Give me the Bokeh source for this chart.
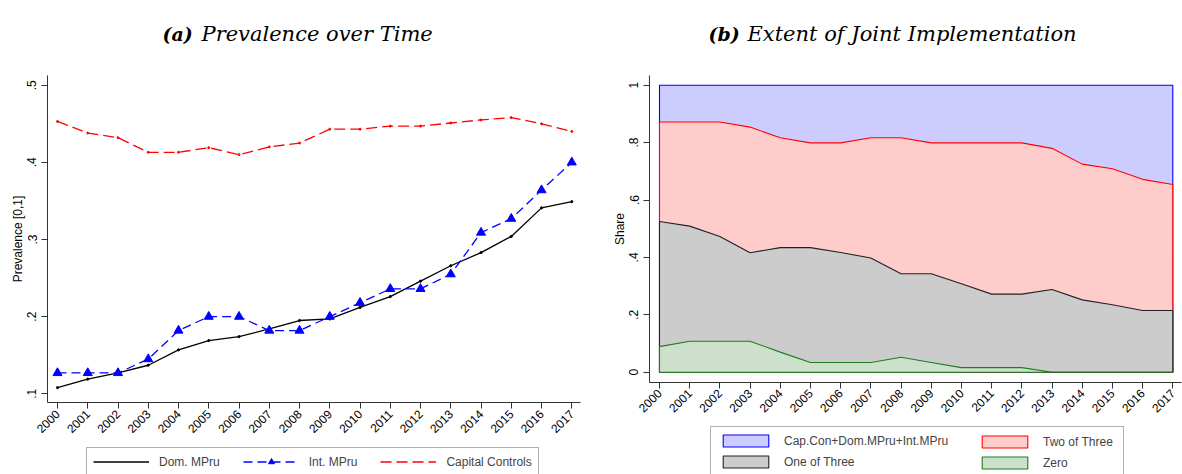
import numpy as np
from bokeh.plotting import figure
from bokeh.layouts import row
from bokeh.models import FixedTicker, Legend, LegendItem, Label, LinearAxis, Range1d
from bokeh.embed import file_html
from bokeh.resources import INLINE

# ---------------- data ----------------
years = [2000, 2001, 2002, 2003, 2004, 2005, 2006, 2007, 2008,
         2009, 2010, 2011, 2012, 2013, 2014, 2015, 2016, 2017]
year_labels = [str(y) for y in years]

# (a) prevalence over time
dom_mpru = [0.108, 0.119, 0.127, 0.137, 0.157, 0.169, 0.174, 0.184, 0.195,
            0.197, 0.212, 0.226, 0.246, 0.266, 0.283, 0.304, 0.341, 0.349]
int_mpru = [0.127, 0.127, 0.127, 0.145, 0.182, 0.200, 0.200, 0.182, 0.182,
            0.200, 0.218, 0.236, 0.236, 0.255, 0.309, 0.327, 0.364, 0.400]
cap_controls = [0.453, 0.438, 0.432, 0.413, 0.413, 0.419, 0.410, 0.420, 0.425,
                0.443, 0.443, 0.447, 0.447, 0.451, 0.455, 0.458, 0.450, 0.440]

# (b) extent of joint implementation (shares, bottom to top)
share_zero = [0.089, 0.108, 0.108, 0.108, 0.070, 0.034, 0.034, 0.034, 0.052,
              0.034, 0.016, 0.016, 0.016, 0.000, 0.000, 0.000, 0.000, 0.000]
share_one = [0.436, 0.401, 0.365, 0.308, 0.364, 0.400, 0.383, 0.364, 0.291,
             0.309, 0.292, 0.256, 0.256, 0.288, 0.252, 0.235, 0.215, 0.215]
share_two = [0.347, 0.363, 0.399, 0.438, 0.383, 0.365, 0.382, 0.419, 0.474,
             0.456, 0.491, 0.527, 0.527, 0.492, 0.473, 0.474, 0.457, 0.439]
share_all = [0.128, 0.128, 0.128, 0.146, 0.183, 0.201, 0.201, 0.183, 0.183,
             0.201, 0.201, 0.201, 0.201, 0.220, 0.275, 0.291, 0.328, 0.346]

left_yticks = [0.1, 0.2, 0.3, 0.4, 0.5]
left_ylabels = [".1", ".2", ".3", ".4", ".5"]
right_yticks = [0.0, 0.2, 0.4, 0.6, 0.8, 1.0]
right_ylabels = ["0", ".2", ".4", ".6", ".8", "1"]

left_names = ["Dom. MPru", "Int. MPru", "Capital Controls"]
right_names = ["Cap.Con+Dom.MPru+Int.MPru", "Two of Three", "One of Three", "Zero"]

SANS = "Liberation Sans"
SERIF = "DejaVu Serif"
H = 474
TOP = 0            # page y of canvas top
BOT = TOP + H      # page y of canvas bottom


class PageMap:
    """Maps page pixels to data values for a figure whose frame fills its canvas."""
    def __init__(self, left, width, xa, xb, ya, yb):
        self.left, self.width = left, width
        self.sx = (xb[1] - xa[1]) / (xb[0] - xa[0])
        self.sy = (ya[1] - yb[1]) / (yb[0] - ya[0])
        self.xa, self.ya = xa, ya

    def x(self, px):
        return self.xa[0] + (px - self.xa[1]) / self.sx

    def y(self, py):
        return self.ya[0] + (self.ya[1] - py) / self.sy

    def ranges(self):
        return (Range1d(self.x(self.left), self.x(self.left + self.width)),
                Range1d(self.y(BOT), self.y(TOP)))


def make_fig(m):
    xr, yr = m.ranges()
    p = figure(width=m.width, height=H, x_range=xr, y_range=yr,
               output_backend="svg", toolbar_location=None,
               x_axis_location=None, y_axis_location=None,
               min_border=0, min_border_left=0, min_border_right=0,
               min_border_top=0, min_border_bottom=0)
    p.grid.visible = False
    p.outline_line_color = None
    return p


def add_axes(p, m, axis_px_x, axis_px_y, x_end_px, y_top_px, yticks, ylabels, ylabel):
    xax = LinearAxis(fixed_location=m.y(axis_px_y),
                     bounds=(m.x(axis_px_x), m.x(x_end_px)),
                     ticker=FixedTicker(ticks=years),
                     major_label_overrides={y: s for y, s in zip(years, year_labels)},
                     major_label_orientation=np.pi / 4)
    yax = LinearAxis(fixed_location=m.x(axis_px_x),
                     bounds=(m.y(axis_px_y), m.y(y_top_px)),
                     ticker=FixedTicker(ticks=yticks),
                     major_label_overrides={t: s for t, s in zip(yticks, ylabels)},
                     major_label_orientation="vertical",
                     axis_label=ylabel)
    for ax in (xax, yax):
        ax.minor_tick_line_color = None
        ax.major_tick_out = 6
        ax.major_tick_in = 0
        ax.axis_line_color = "#333333"
        ax.major_tick_line_color = "#333333"
        ax.major_label_text_font = SANS
        ax.major_label_text_font_size = "12px"
        ax.major_label_text_color = "black"
        ax.axis_label_text_font = SANS
        ax.axis_label_text_font_size = "12px"
        ax.axis_label_text_font_style = "normal"
        ax.axis_label_text_color = "black"
    xax.major_label_standoff = 3
    yax.major_label_standoff = 5
    yax.axis_label_standoff = 0
    p.add_layout(xax, "below")
    p.add_layout(yax, "left")


def add_title(p, m, bold_txt, rest_txt, px_bold, px_rest, py):
    for txt, px, style, size in ((bold_txt, px_bold, "bold italic", "19px"),
                                 (rest_txt, px_rest, "italic", "21px")):
        p.add_layout(Label(x=m.x(px), y=m.y(py), text=txt, text_font=SERIF,
                           text_font_size=size, text_font_style=style,
                           text_align="left", text_baseline="alphabetic",
                           text_color="black"))


# ---------------- (a) ----------------
ma = PageMap(0, 590, (2000, 57.0), (2017, 571.3), (0.1, 393.3), (0.5, 84.7))
pa = make_fig(ma)
add_axes(pa, ma, 47, 402.3, 580, 75, left_yticks, left_ylabels, "Prevalence [0,1]")

r_dom = pa.line(years, dom_mpru, line_color="black", line_width=1.3)
pa.scatter(years, dom_mpru, size=2.2, color="black")
r_int = pa.line(years, int_mpru, line_color="#0000FF", line_width=1.3, line_dash="9 5")
r_int_m = pa.scatter(years, int_mpru, marker="triangle", size=9,
                     fill_color="#0000FF", line_color="#0000FF")
r_cap = pa.line(years, cap_controls, line_color="#FF0000", line_width=1.3, line_dash="11 5")
pa.scatter(years, cap_controls, size=2.0, color="#FF0000")

leg_a_h = 6 + 15 + 6
leg_a = Legend(items=[LegendItem(label=left_names[0], renderers=[r_dom]),
                      LegendItem(label=left_names[1], renderers=[r_int, r_int_m]),
                      LegendItem(label=left_names[2], renderers=[r_cap])],
               orientation="horizontal",
               location=(86 - 0, BOT - (449 + leg_a_h)),
               glyph_width=56, glyph_height=15, label_height=15,
               label_standoff=10, spacing=23, padding=6, margin=0,
               label_text_font=SANS, label_text_font_size="12px",
               border_line_color="#666666", border_line_width=1,
               background_fill_color="white")
pa.add_layout(leg_a, "center")
add_title(pa, ma, "(a)", "Prevalence over Time", 162, 201, 33)

# ---------------- (b) ----------------
mb = PageMap(590, 592, (2000, 659.0), (2017, 1172.3), (0.0, 371.7), (1.0, 84.7))
pb = make_fig(mb)
add_axes(pb, mb, 649, 381.7, 1181, 75, right_yticks, right_ylabels, "Share")

layers = [share_zero, share_one, share_two, share_all]
tops = np.cumsum(np.array(layers), axis=0)
fills = ["#CCE0CC", "#CCCCCC", "#FFCCCC", "#CCCCFF"]
lines = ["#1E7B1E", "#222222", "#FF0000", "#0000FF"]
xs_poly = list(years) + list(years[::-1])
rends = [None] * 4
for k in (3, 2, 1, 0):
    ys_poly = list(tops[k]) + [0.0] * len(years)
    rends[k] = pb.patch(xs_poly, ys_poly, fill_color=fills[k], line_color=lines[k],
                        line_width=1.1)

common = dict(orientation="vertical", glyph_width=57, glyph_height=15, label_height=15,
              label_standoff=10, spacing=6, padding=6, margin=0,
              label_text_font=SANS, label_text_font_size="12px")
leg_h = 6 + 15 + 6 + 15 + 6
leg_b1 = Legend(items=[LegendItem(label=right_names[0], renderers=[rends[3]]),
                       LegendItem(label=right_names[2], renderers=[rends[1]])],
                location=(710 - 590, BOT - (428 + leg_h)), label_width=333,
                border_line_color="#666666", border_line_width=1,
                background_fill_color="white", **common)
leg_b2 = Legend(items=[LegendItem(label=right_names[1], renderers=[rends[2]]),
                       LegendItem(label=right_names[3], renderers=[rends[0]])],
                location=(970 - 590, BOT - (428 + leg_h)),
                border_line_alpha=0, background_fill_alpha=0, **common)
pb.add_layout(leg_b1, "center")
pb.add_layout(leg_b2, "center")
add_title(pb, mb, "(b)", "Extent of Joint Implementation", 708, 747, 33)

layout = row(pa, pb)
open("out.html", "w").write(file_html(layout, INLINE))
